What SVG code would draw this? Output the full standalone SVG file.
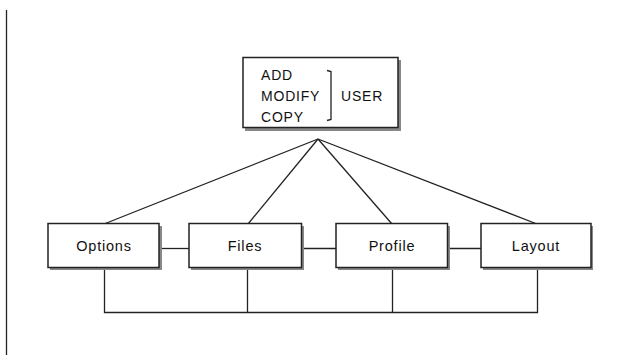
<svg xmlns="http://www.w3.org/2000/svg" width="628" height="364" viewBox="0 0 628 364">
  <style>
    .box { fill: #ffffff; stroke: #222222; stroke-width: 1.5; }
    .shadow { fill: #888888; }
    .line { stroke: #222222; stroke-width: 1.3; fill: none; }
    text { font-family: "Liberation Sans", Arial, sans-serif; fill: #111111; }
    .lbl { font-size: 14px; letter-spacing: 0.8px; }
    .node { font-size: 14.5px; letter-spacing: 0.8px; text-anchor: middle; }
  </style>
  <rect width="628" height="364" fill="#ffffff"/>
  <line class="line" x1="6.5" y1="10" x2="6.5" y2="355"/>

  <g id="connectors">
    <line class="line" x1="318" y1="139" x2="104" y2="224"/>
    <line class="line" x1="318" y1="139" x2="248" y2="224"/>
    <line class="line" x1="318" y1="139" x2="392" y2="224"/>
    <line class="line" x1="318" y1="139" x2="537" y2="224"/>
    <line class="line" x1="159" y1="248.5" x2="189" y2="248.5"/>
    <line class="line" x1="302" y1="248.5" x2="336" y2="248.5"/>
    <line class="line" x1="448" y1="248.5" x2="481" y2="248.5"/>
    <polyline class="line" points="104.5,268 104.5,312.5 537.5,312.5 537.5,268"/>
    <line class="line" x1="247.5" y1="268" x2="247.5" y2="312.5"/>
    <line class="line" x1="392.5" y1="268" x2="392.5" y2="312.5"/>
  </g>

  <g id="user">
    <rect class="shadow" x="245" y="60" width="156" height="71"/>
    <rect class="box" x="243" y="57.5" width="155" height="70"/>
    <text class="lbl" x="261" y="80">ADD</text>
    <text class="lbl" x="261" y="101">MODIFY</text>
    <text class="lbl" x="261" y="122">COPY</text>
    <path class="line" d="M327,70.5 L331,71.5 L331,119.5 L327,120.5"/>
    <text class="lbl" x="341" y="101">USER</text>
  </g>

  <g id="options">
    <rect class="shadow" x="50" y="226" width="112" height="44"/>
    <rect class="box" x="48" y="223.5" width="111" height="44"/>
    <text class="node" x="104" y="251">Options</text>
  </g>
  <g id="files">
    <rect class="shadow" x="191" y="226" width="113" height="44"/>
    <rect class="box" x="189" y="223.5" width="112.5" height="44"/>
    <text class="node" x="245" y="251">Files</text>
  </g>
  <g id="profile">
    <rect class="shadow" x="338" y="226" width="112" height="44"/>
    <rect class="box" x="336" y="223.5" width="111.5" height="44"/>
    <text class="node" x="392" y="251">Profile</text>
  </g>
  <g id="layout">
    <rect class="shadow" x="483" y="226" width="110" height="44"/>
    <rect class="box" x="481" y="223.5" width="110" height="44"/>
    <text class="node" x="536" y="251">Layout</text>
  </g>
</svg>
